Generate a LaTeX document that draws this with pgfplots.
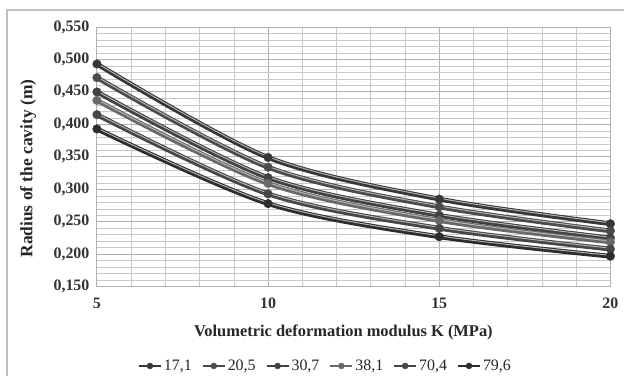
\documentclass[border=0pt]{standalone}
\usepackage{pgfplots}
\pgfplotsset{compat=1.18}
\usepackage{fontspec}
\setmainfont{Liberation Serif}
\definecolor{gridmaj}{RGB}{175,175,180}
\definecolor{gridmin}{RGB}{200,200,205}
\definecolor{sA}{RGB}{55,55,55}
\definecolor{sB}{RGB}{75,75,75}
\definecolor{sC}{RGB}{65,65,65}
\definecolor{sD}{RGB}{105,105,105}
\definecolor{sE}{RGB}{70,70,70}
\definecolor{sF}{RGB}{45,45,45}
\definecolor{hl}{RGB}{185,185,185}
\pgfplotstableread{
x y
5 0.493
10 0.349
15 0.285
20 0.247
}\tA
\pgfplotstableread{
x y
5 0.472
10 0.334
15 0.273
20 0.236
}\tB
\pgfplotstableread{
x y
5 0.450
10 0.318
15 0.260
20 0.225
}\tC
\pgfplotstableread{
x y
5 0.437
10 0.309
15 0.252
20 0.219
}\tD
\pgfplotstableread{
x y
5 0.415
10 0.293
15 0.240
20 0.208
}\tE
\pgfplotstableread{
x y
5 0.393
10 0.278
15 0.227
20 0.197
}\tF
\newcommand{\series}[2]{%
  \addplot[#2, line width=4.8pt, smooth, no markers, forget plot] table {#1};
  \addplot[hl, line width=0.9pt, smooth, no markers, forget plot, yshift=0.9bp] table {#1};
  \addplot[#2, only marks, mark=*, mark size=4.3pt, mark options={fill=#2, draw=#2}] table {#1};
}
\begin{document}
\begin{tikzpicture}
\begin{axis}[
  scale only axis, width=514bp, height=260bp,
  xmin=5, xmax=20, ymin=0.15, ymax=0.55,
  xtick={5,10,15,20}, minor x tick num=4,
  ytick={0.15,0.2,...,0.55}, minor y tick num=4,
  grid=both,
  major grid style={gridmaj, line width=0.9pt},
  minor grid style={gridmin, line width=0.6pt},
  axis line style={gridmaj, line width=0.9pt},
  tick style={draw=none},
  yticklabel={\pgfmathprintnumber[fixed,fixed zerofill,precision=3,use comma]{\tick}},
  xticklabel={\pgfmathprintnumber{\tick}},
  ticklabel style={font=\fontsize{16}{18}\selectfont\bfseries, text=black!80},
  /pgf/number format/assume math mode=true,
  xticklabel style={yshift=-8bp},
  yticklabel style={xshift=-4bp},
  xlabel={Volumetric deformation modulus K (MPa)},
  xlabel style={font=\fontsize{16.5}{19}\selectfont\bfseries, text=black!85, at={(rel axis cs:0.48,-0.178)}, anchor=center},
  ylabel={Radius of the cavity (m)},
  ylabel style={font=\fontsize{17.5}{19}\selectfont\bfseries, text=black!85, at={(rel axis cs:-0.134,0.455)}, anchor=center, rotate=0},
  legend columns=6,
  legend style={draw=none, fill=none, font=\fontsize{16}{18}\selectfont, text=black!85,
    at={(rel axis cs:0.445,-0.305)}, anchor=center,
    /tikz/every even column/.append style={column sep=8bp}},
  legend image code/.code={\draw[#1, line width=2pt] (0bp,0bp) -- (22bp,0bp); \fill[#1] (11bp,0bp) circle (3bp);},
]
\series{\tA}{sA}
\series{\tB}{sB}
\series{\tC}{sC}
\series{\tD}{sD}
\series{\tE}{sE}
\series{\tF}{sF}
\legend{{17,1},{20,5},{30,7},{38,1},{70,4},{79,6}}
\coordinate (O) at (rel axis cs:0,0);
\end{axis}
\draw[black!25, line width=1.2pt] ([shift={(-90bp,-89bp)}]O) -- ([shift={(-90bp,277bp)}]O) -- ([shift={(528bp,277bp)}]O);
\path ([shift={(-97bp,-89bp)}]O) rectangle ([shift={(528bp,287bp)}]O);
\end{tikzpicture}
\end{document}
